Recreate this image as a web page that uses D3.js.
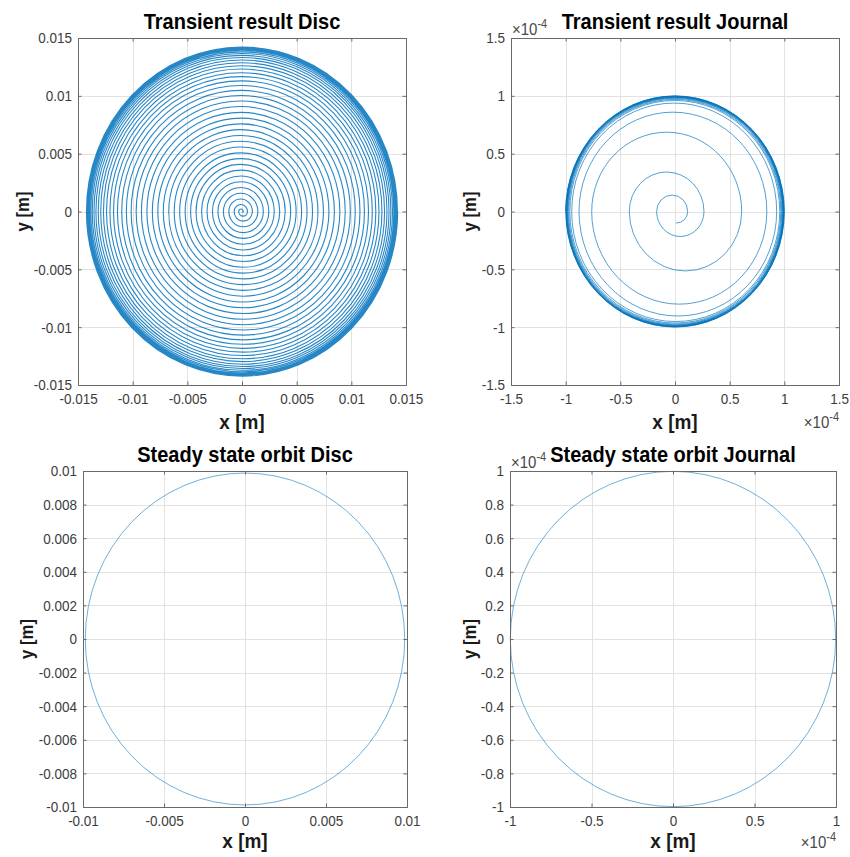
<!DOCTYPE html>
<html>
<head>
<meta charset="utf-8">
<script src="https://cdn.jsdelivr.net/npm/d3@7"></script>
<style>
  body { margin: 0; background: #fff; }
  svg { display: block; }
  text { font-family: "Liberation Sans", Arial, sans-serif; }
</style>
</head>
<body>
<svg id="fig" width="850" height="857"></svg>
<script>
// ---- tick values ----
const discTicks = [-0.015, -0.01, -0.005, 0, 0.005, 0.01, 0.015];
const journalTicks = [-1.5, -1, -0.5, 0, 0.5, 1, 1.5];
const steadyDiscXTicks = [-0.01, -0.005, 0, 0.005, 0.01];
const steadyDiscYTicks = [-0.01, -0.008, -0.006, -0.004, -0.002, 0, 0.002, 0.004, 0.006, 0.008, 0.01];
const steadyJournalXTicks = [-1, -0.5, 0, 0.5, 1];
const steadyJournalYTicks = [-1, -0.8, -0.6, -0.4, -0.2, 0, 0.2, 0.4, 0.6, 0.8, 1];

// ---- transient disc orbit: start point and successive x-axis crossings, in mm ----
const discStartMm = [0.0, -0.05];
const discCrossingsMm = [
  0.12, -0.3, 0.5, -0.72, 0.95, -1.2, 1.45, -1.7, 1.95, -2.2,
  2.45, -2.7, 2.95, -3.2, 3.45, -3.7, 3.95, -4.2, 4.45, -4.7,
  4.95, -5.2, 5.45, -5.7, 5.95, -6.2, 6.45, -6.7, 6.95, -7.2,
  7.45, -7.7, 7.95, -8.2, 8.45, -8.7, 8.95, -9.2, 9.44, -9.68,
  9.91, -10.14, 10.36, -10.58, 10.79, -11.0, 11.2, -11.39, 11.57, -11.75,
  11.92, -12.08, 12.24, -12.39, 12.53, -12.67, 12.8, -12.92, 13.04, -13.15,
  13.26, -13.36, 13.45, -13.54, 13.62, -13.7, 13.77, -13.83, 13.89, -13.94,
  13.99, -14.03, 14.07, -14.1, 14.13, -14.15, 14.17, -14.19, 14.2, -14.21,
  14.22, -14.23, 14.24
];

// ---- transient journal orbit (x 1e-4 m): start point and x-axis crossings ----
const journalStart = [0.01, -0.10];
const journalCrossings = [
  0.116, -0.168, 0.265, -0.418, 0.61, -0.762, 0.84, -0.878, 0.93, -0.945,
  0.958, -0.962, 0.968, -0.972, 0.976, -0.979, 0.982, -0.984, 0.986, -0.988,
  0.989, -0.991, 0.992, -0.993, 0.994, -0.995, 0.996, -0.997, 0.998, -0.999,
  1.0, -1.0
];

// ---- steady-state orbits: centre and semi-axes ----
const steadyDiscCenter = [0, 0];
const steadyDiscRadii = [0.00986, 0.00988];
const steadyJournalCenter = [0, 0];
const steadyJournalRadii = [0.998, 0.998];

const LINE = "#0072BD";
const TEXT_GRAY = "#3c3c3c";
const svg = d3.select("#fig");

const fmt = v => {
  const s = String(+v.toFixed(6));
  return s === "-0" ? "0" : s;
};

// text drawn slightly taller than wide, like the exported figure's lettering
function label(g, x, y, str, opts) {
  const t = g.append("text")
    .attr("transform", `translate(${x},${y})${opts.rotate ? " rotate(-90)" : ""} scale(${opts.rotate ? opts.k : 1},${opts.rotate ? 1 : opts.k})`)
    .attr("text-anchor", opts.anchor || "middle")
    .attr("font-weight", opts.bold ? "bold" : "normal")
    .attr("font-size", opts.size)
    .attr("fill", opts.fill || "#000");
  if (str !== null) t.text(str);
  return t;
}

function panel(o) {
  const { left, right, top, bottom } = o.box;
  const x = d3.scaleLinear().domain(o.xDomain).range([left, right]);
  const y = d3.scaleLinear().domain(o.yDomain).range([bottom, top]);
  const g = svg.append("g");

  g.append("rect").attr("x", left).attr("y", top)
    .attr("width", right - left).attr("height", bottom - top).attr("fill", "#fff");

  // grid
  const grid = g.append("g").attr("stroke", "#e2e2e2").attr("stroke-width", 1);
  o.xTicks.forEach(t => grid.append("line")
    .attr("x1", Math.round(x(t)) + 0.5).attr("x2", Math.round(x(t)) + 0.5)
    .attr("y1", top).attr("y2", bottom));
  o.yTicks.forEach(t => grid.append("line")
    .attr("y1", Math.round(y(t)) + 0.5).attr("y2", Math.round(y(t)) + 0.5)
    .attr("x1", left).attr("x2", right));

  const plot = g.append("g");

  // axes with inward ticks on all four sides
  const tk = 3.5;
  const axes = g.append("g");
  axes.append("g").attr("transform", `translate(0,${bottom})`)
    .call(d3.axisBottom(x).tickValues(o.xTicks).tickFormat(fmt).tickSize(-tk).tickPadding(7));
  axes.append("g").attr("transform", `translate(${left},0)`)
    .call(d3.axisLeft(y).tickValues(o.yTicks).tickFormat(fmt).tickSize(-tk).tickPadding(6));
  axes.append("g").attr("transform", `translate(0,${top})`)
    .call(d3.axisTop(x).tickValues(o.xTicks).tickFormat("").tickSize(-tk));
  axes.append("g").attr("transform", `translate(${right},0)`)
    .call(d3.axisRight(y).tickValues(o.yTicks).tickFormat("").tickSize(-tk));
  axes.selectAll(".domain").attr("stroke", "#6a6a6a");
  axes.selectAll(".tick line").attr("stroke", "#6a6a6a");
  axes.selectAll(".tick text").attr("fill", TEXT_GRAY).style("font-size", "13.5px")
    .attr("transform", "scale(1,1.15)")
    .style("font-family", '"Liberation Sans", Arial, sans-serif');

  // title and axis labels
  label(g, (left + right) / 2, o.titleY, o.title, { size: 20, bold: true, k: 1.1 });
  label(g, (left + right) / 2, o.xLabelY, "x [m]", { size: 19, bold: true, k: 1.05, fill: "#1a1a1a" });
  label(g, o.yLabelX, (top + bottom) / 2, "y [m]", { size: 19, bold: true, k: 0.88, rotate: true, fill: "#1a1a1a" });

  if (o.exponent) {
    const e1 = label(g, left + 1, top - 3, null, { size: 15, anchor: "start", k: 1.1, fill: "#4a4a4a" });
    e1.append("tspan").text("\u00d710");
    e1.append("tspan").attr("dy", -6).attr("font-size", 11).text(o.exponent);
    const e2 = label(g, right, bottom + o.xExpDy, null, { size: 15, anchor: "end", k: 1.1, fill: "#4a4a4a" });
    e2.append("tspan").text("\u00d710");
    e2.append("tspan").attr("dy", -6).attr("font-size", 11).text(o.exponent);
  }
  return { plot, x, y };
}

// spiral built from a quarter arc to the first crossing and half-turn arcs between crossings
function orbitPath(x, y, start, crossings) {
  const y0 = y(0);
  let d = `M${x(start[0])},${y(start[1])}`;
  d += `A${Math.abs(x(crossings[0]) - x(start[0]))},${Math.abs(y(start[1]) - y0)} 0 0 0 ${x(crossings[0])},${y0}`;
  for (let i = 1; i < crossings.length; i++) {
    const a = crossings[i - 1], b = crossings[i];
    const rx = Math.abs(x(b) - x(a)) / 2;
    const ry = Math.abs(y(Math.abs(b - a) / 2) - y0);
    d += `A${rx},${ry} 0 0 0 ${x(b)},${y0}`;
  }
  return d;
}

// ---- Transient result Disc ----
const p1 = panel({
  box: { left: 78, right: 406, top: 38, bottom: 385 },
  xDomain: [-0.015, 0.015], yDomain: [-0.015, 0.015],
  xTicks: discTicks, yTicks: discTicks,
  title: "Transient result Disc", titleY: 29, xLabelY: 429, yLabelX: 29
});
p1.plot.append("path")
  .attr("d", orbitPath(p1.x, p1.y, discStartMm.map(v => v / 1000), discCrossingsMm.map(v => v / 1000)))
  .attr("fill", "none").attr("stroke", LINE).attr("stroke-width", 1.1).attr("stroke-opacity", 0.85);

// ---- Transient result Journal ----
const p2 = panel({
  box: { left: 511, right: 839, top: 38, bottom: 385 },
  xDomain: [-1.5, 1.5], yDomain: [-1.5, 1.5],
  xTicks: journalTicks, yTicks: journalTicks,
  title: "Transient result Journal", titleY: 29, xLabelY: 429, yLabelX: 476,
  exponent: "-4", xExpDy: 43
});
p2.plot.append("path")
  .attr("d", orbitPath(p2.x, p2.y, journalStart, journalCrossings))
  .attr("fill", "none").attr("stroke", LINE).attr("stroke-width", 0.8).attr("stroke-opacity", 0.85);

// ---- Steady state orbit Disc ----
const p3 = panel({
  box: { left: 83, right: 407, top: 471, bottom: 807 },
  xDomain: [-0.01, 0.01], yDomain: [-0.01, 0.01],
  xTicks: steadyDiscXTicks, yTicks: steadyDiscYTicks,
  title: "Steady state orbit Disc", titleY: 462, xLabelY: 848, yLabelX: 33
});
p3.plot.append("ellipse")
  .attr("cx", p3.x(steadyDiscCenter[0])).attr("cy", p3.y(steadyDiscCenter[1]))
  .attr("rx", p3.x(steadyDiscRadii[0]) - p3.x(0)).attr("ry", p3.y(0) - p3.y(steadyDiscRadii[1]))
  .attr("fill", "none").attr("stroke", LINE).attr("stroke-width", 0.8).attr("stroke-opacity", 0.7);

// ---- Steady state orbit Journal ----
const p4 = panel({
  box: { left: 510, right: 836, top: 471, bottom: 807 },
  xDomain: [-1, 1], yDomain: [-1, 1],
  xTicks: steadyJournalXTicks, yTicks: steadyJournalYTicks,
  title: "Steady state orbit Journal", titleY: 462, xLabelY: 848, yLabelX: 476,
  exponent: "-4", xExpDy: 41
});
p4.plot.append("ellipse")
  .attr("cx", p4.x(steadyJournalCenter[0])).attr("cy", p4.y(steadyJournalCenter[1]))
  .attr("rx", p4.x(steadyJournalRadii[0]) - p4.x(0)).attr("ry", p4.y(0) - p4.y(steadyJournalRadii[1]))
  .attr("fill", "none").attr("stroke", LINE).attr("stroke-width", 0.8).attr("stroke-opacity", 0.7);
</script>
</body>
</html>
